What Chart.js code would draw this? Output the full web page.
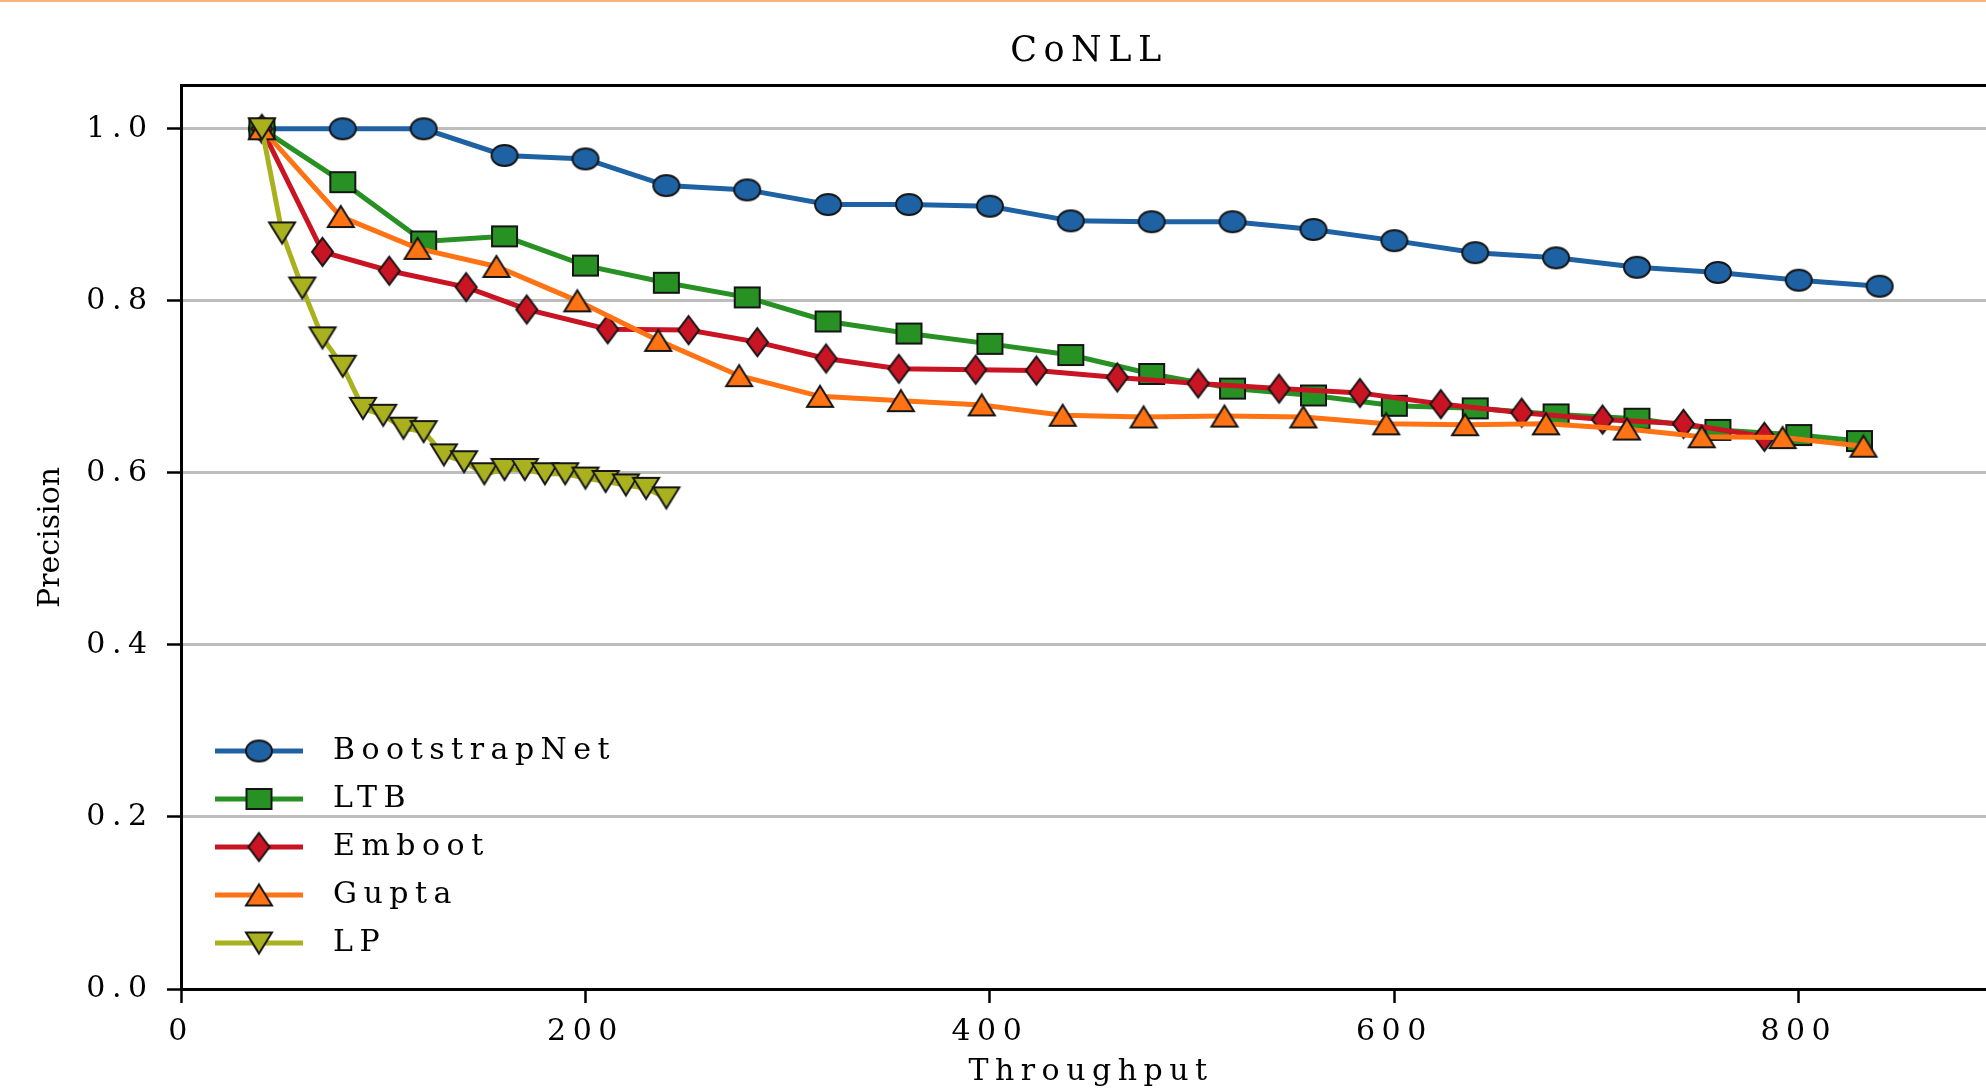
<!DOCTYPE html>
<html>
<head>
<meta charset="utf-8">
<title>CoNLL</title>
<script src="https://cdn.jsdelivr.net/npm/chart.js@4.4.0/dist/chart.umd.min.js"></script>
<style>
    html, body { margin: 0; padding: 0; background: #fff; overflow: hidden; }
    #wrap { position: relative; width: 2178px; height: 1090px; }
    #edge { position: absolute; left: 0; top: 0; width: 100%; height: 2px; background: #fcb27c; }
</style>
</head>
<body>
<div id="wrap"><canvas id="myChart" width="2178" height="1090"></canvas></div>
<div id="edge"></div>
<script>
// Datos (Throughput vs Precision)
const bootstrapX = [40, 80, 120, 160, 200, 240, 280, 320, 360, 400, 440, 480, 520, 560, 600, 640, 680, 720, 760, 800, 840];
const bootstrapY = [1.0, 1.0, 1.0, 0.969, 0.965, 0.934, 0.929, 0.912, 0.912, 0.910, 0.893, 0.892, 0.892, 0.883, 0.870, 0.856, 0.850, 0.839, 0.833, 0.824, 0.817];

const ltbX = [40, 80, 120, 160, 200, 240, 280, 320, 360, 400, 440, 480, 520, 560, 600, 640, 680, 720, 760, 800, 830];
const ltbY = [1.0, 0.938, 0.869, 0.875, 0.841, 0.821, 0.804, 0.776, 0.762, 0.750, 0.737, 0.715, 0.698, 0.690, 0.678, 0.675, 0.668, 0.663, 0.650, 0.644, 0.637];

const embootX = [40, 70, 103, 141, 171, 211, 251, 285, 319, 355, 393, 423, 463, 503, 543, 583, 623, 663, 703, 743, 783];
const embootY = [1.0, 0.857, 0.835, 0.816, 0.790, 0.767, 0.766, 0.752, 0.733, 0.721, 0.720, 0.719, 0.711, 0.704, 0.698, 0.693, 0.680, 0.670, 0.662, 0.657, 0.642];

const guptaX = [40, 79, 117, 156, 196, 236, 276, 316, 356, 396, 436, 476, 516, 555, 596, 635, 675, 715, 752, 792, 832];
const guptaY = [1.0, 0.898, 0.861, 0.840, 0.800, 0.754, 0.713, 0.689, 0.684, 0.679, 0.667, 0.665, 0.666, 0.665, 0.657, 0.656, 0.657, 0.651, 0.642, 0.641, 0.631];

const lpX = [40, 50, 60, 70, 80, 90, 100, 110, 120, 130, 140, 150, 160, 170, 180, 190, 200, 210, 220, 230, 240];
const lpY = [1.0, 0.879, 0.815, 0.757, 0.724, 0.675, 0.667, 0.652, 0.648, 0.621, 0.613, 0.599, 0.604, 0.604, 0.599, 0.599, 0.594, 0.590, 0.586, 0.582, 0.571];

const xTicks = [0, 200, 400, 600, 800];
const yTicks = [0.0, 0.2, 0.4, 0.6, 0.8, 1.0];

const COLORES = {
    bootstrap: '#1e62a4',
    ltb: '#289123',
    emboot: '#c81423',
    gupta: '#ff7314',
    lp: '#aab11e'
};

const ESPACIADO = '6.5px';

// Marcadores estirados (la figura original está ensanchada en horizontal)
function marcador(forma, color, w, h) {
    const c = document.createElement('canvas');
    c.width = w + 6;
    c.height = h + 6;
    const g = c.getContext('2d');
    const cx = c.width / 2, cy = c.height / 2;
    g.beginPath();
    if (forma === 'circle') {
        g.ellipse(cx, cy, w / 2, h / 2, 0, 0, 2 * Math.PI);
    } else if (forma === 'square') {
        g.rect(cx - w / 2, cy - h / 2, w, h);
    } else {
        const pts = {
            diamond: [[0, -1], [1, 0], [0, 1], [-1, 0]],
            up: [[0, -1], [1, 1], [-1, 1]],
            down: [[0, 1], [1, -1], [-1, -1]]
        }[forma];
        pts.forEach(([px, py], i) => g[i ? 'lineTo' : 'moveTo'](cx + px * w / 2, cy + py * h / 2));
        g.closePath();
    }
    g.fillStyle = color;
    g.fill();
    g.lineWidth = 2;
    g.strokeStyle = '#151515';
    g.stroke();
    return c;
}

// Muestra de leyenda: línea + marcador
function muestra(img, color) {
    const c = document.createElement('canvas');
    c.width = 119;
    c.height = 36;
    const g = c.getContext('2d');
    g.strokeStyle = color;
    g.lineWidth = 5;
    g.beginPath();
    g.moveTo(16, 18);
    g.lineTo(104, 18);
    g.stroke();
    g.drawImage(img, 60 - img.width / 2, 18 - img.height / 2);
    return c;
}

const series = [
    { label: 'BootstrapNet', xs: bootstrapX, ys: bootstrapY, color: COLORES.bootstrap, img: marcador('circle', COLORES.bootstrap, 26, 21) },
    { label: 'LTB', xs: ltbX, ys: ltbY, color: COLORES.ltb, img: marcador('square', COLORES.ltb, 25, 20) },
    { label: 'Emboot', xs: embootX, ys: embootY, color: COLORES.emboot, img: marcador('diamond', COLORES.emboot, 21, 28) },
    { label: 'Gupta', xs: guptaX, ys: guptaY, color: COLORES.gupta, img: marcador('up', COLORES.gupta, 26, 21) },
    { label: 'LP', xs: lpX, ys: lpY, color: COLORES.lp, img: marcador('down', COLORES.lp, 26, 21) }
];
const muestras = series.map(s => muestra(s.img, s.color));

// El canvas no aplica espaciado entre letras por sí solo
const espaciado = {
    id: 'espaciado',
    beforeLayout(chart) { chart.ctx.letterSpacing = ESPACIADO; },
    beforeDraw(chart) {
        chart.ctx.letterSpacing = ESPACIADO;
        const y = chart.scales.y;
        if (!y._sinEspacio) {
            const orig = y.drawTitle;
            y.drawTitle = function () {
                this.ctx.letterSpacing = '0px';
                orig.call(this);
                this.ctx.letterSpacing = ESPACIADO;
            };
            y._sinEspacio = true;
        }
    },
    afterLayout(chart) {
        // leyenda abajo a la izquierda dentro del área del gráfico
        chart.legend.top = chart.chartArea.top;
        chart.legend.bottom = chart.chartArea.bottom - 13;
    }
};

Chart.defaults.font.family = "'DejaVu Serif', serif";
Chart.defaults.color = '#000';

const ctx = document.getElementById('myChart').getContext('2d');
const myChart = new Chart(ctx, {
    type: 'line',
    data: {
        datasets: series.map((s, i) => ({
            label: s.label,
            data: s.xs.map((x, k) => ({ x: x, y: s.ys[k] })),
            borderColor: s.color,
            backgroundColor: s.color,
            borderWidth: 5,
            pointStyle: s.img,
            pointRadius: 13,
            pointHoverRadius: 13,
            tension: 0,
            fill: false,
            order: series.length - i
        }))
    },
    options: {
        responsive: false,
        animation: false,
        events: [],
        layout: { padding: 0 },
        plugins: {
            title: {
                display: true,
                text: 'CoNLL',
                font: { size: 35, weight: 'normal' },
                padding: { top: 31.4, bottom: 12.4 }
            },
            legend: {
                position: 'chartArea',
                align: 'end',
                labels: {
                    usePointStyle: true,
                    pointStyleWidth: 119,
                    padding: 18,
                    font: { size: 30 },
                    sort: (a, b) => a.datasetIndex - b.datasetIndex,
                    generateLabels: (chart) => {
                        const items = Chart.defaults.plugins.legend.labels.generateLabels(chart);
                        items.forEach(it => { it.pointStyle = muestras[it.datasetIndex]; });
                        return items;
                    }
                }
            },
            tooltip: { enabled: false }
        },
        scales: {
            x: {
                type: 'linear',
                position: 'bottom',
                min: 0,
                max: 900,
                ticks: { stepSize: 200, font: { size: 30 }, padding: 11, maxRotation: 0 },
                grid: { drawOnChartArea: false, drawTicks: true, tickLength: 14, tickWidth: 2.5, tickColor: '#000' },
                border: { display: true, color: '#000', width: 3 },
                title: { display: true, text: 'Throughput', font: { size: 30 }, padding: { top: 0, bottom: 0 } },
                afterBuildTicks: (s) => { s.ticks = xTicks.map(v => ({ value: v })); },
                afterFit: (s) => { s.height = 101; }
            },
            x2: {
                type: 'linear',
                position: 'top',
                min: 0,
                max: 900,
                ticks: { display: false },
                grid: { display: false },
                border: { display: true, color: '#000', width: 3 },
                afterFit: (s) => { s.height = 0; }
            },
            y: {
                min: 0,
                max: 1.05,
                ticks: { stepSize: 0.2, font: { size: 30 }, padding: 13.5, callback: (v) => v.toFixed(1) },
                grid: { color: '#bdbdbd', lineWidth: 3, drawTicks: true, tickLength: 14, tickWidth: 2.5, tickColor: '#000' },
                border: { color: '#000', width: 3 },
                title: { display: true, text: 'Precision', font: { size: 30 }, padding: { top: 33, bottom: 0 } },
                afterBuildTicks: (s) => { s.ticks = yTicks.map(v => ({ value: v })); },
                afterFit: (s) => { s.width = 181; }
            },
            // eje derecho vacío: deja el área del gráfico más allá del borde visible
            y2: {
                position: 'right',
                display: true,
                min: 0,
                max: 1.05,
                ticks: { display: false },
                grid: { display: false },
                border: { display: false },
                afterFit: (s) => { s.width = 177; }
            }
        }
    },
    plugins: [espaciado]
});

window.myChart = myChart;
</script>
</body>
</html>
